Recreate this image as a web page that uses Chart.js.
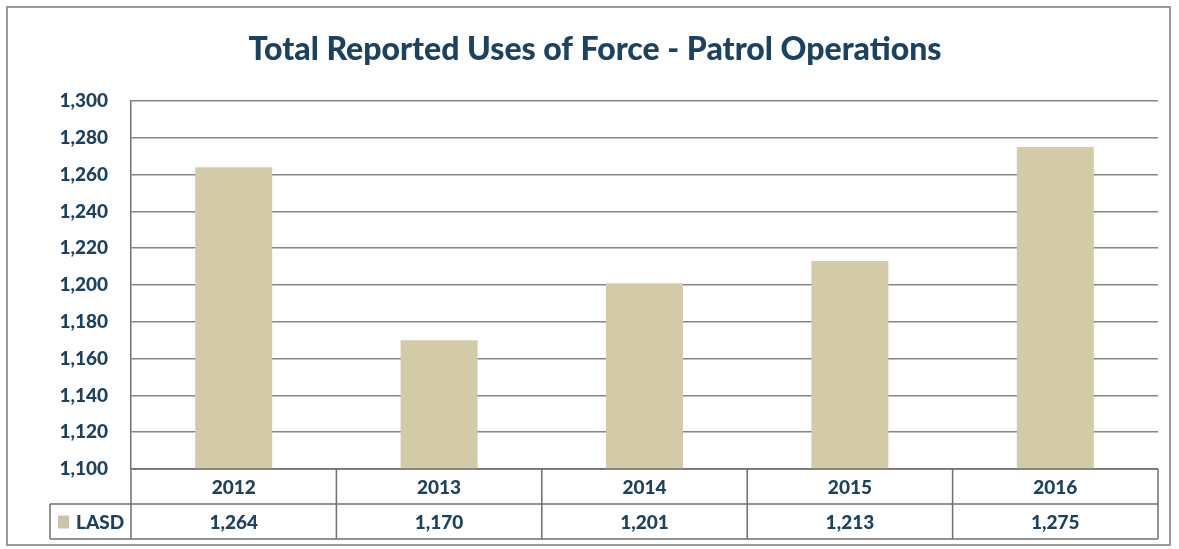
<!DOCTYPE html>
<html>
<head>
<meta charset="utf-8">
<script src="https://cdn.jsdelivr.net/npm/chart.js@4/dist/chart.umd.min.js"></script>
<style>
  html, body { margin: 0; padding: 0; background: #fff; }
  #wrap { width: 1179px; height: 549px; position: relative; }
</style>
</head>
<body>
<div id="wrap"><canvas id="forceChart" width="1179" height="549"></canvas></div>
<script>
const years = ["2012", "2013", "2014", "2015", "2016"];
const lasdValues = [1264, 1170, 1201, 1213, 1275];
const seriesName = "LASD";
const chartTitle = "Total Reported Uses of Force - Patrol Operations";

const navy = "#1b4260";
const barColor = "#d3caa8";
const lineColor = "#858585";
const fontFamily = "Lato, 'Open Sans', sans-serif";

function fmt(v) {
  return v.toLocaleString("en-US");
}

// frame + title + data table under the x axis
const tablePlugin = {
  id: "dataTable",
  beforeDraw(chart) {
    const ctx = chart.ctx;
    ctx.save();
    ctx.fillStyle = "#fff";
    ctx.fillRect(0, 0, chart.width, chart.height);
    ctx.strokeStyle = "#9a9a9a";
    ctx.lineWidth = 2;
    ctx.strokeRect(7, 7, 1163, 538);
    ctx.restore();
  },
  afterDraw(chart) {
    const ctx = chart.ctx;
    const area = chart.chartArea;
    const x = chart.scales.x;
    const rowH = 35;
    const top = area.bottom;
    const legendLeft = 50;

    ctx.save();
    // title
    ctx.fillStyle = navy;
    ctx.font = "900 32px " + fontFamily;
    ctx.textAlign = "center";
    ctx.textBaseline = "alphabetic";
    ctx.fillText(chartTitle, 595, 60);

    // table lines
    ctx.strokeStyle = "#707070";
    ctx.lineWidth = 1.5;
    ctx.beginPath();
    ctx.moveTo(area.left, top);
    ctx.lineTo(area.right, top);
    ctx.moveTo(legendLeft, top + rowH);
    ctx.lineTo(area.right, top + rowH);
    ctx.moveTo(legendLeft, top + rowH * 2);
    ctx.lineTo(area.right, top + rowH * 2);
    ctx.moveTo(legendLeft, top + rowH);
    ctx.lineTo(legendLeft, top + rowH * 2);
    const step = (area.right - area.left) / years.length;
    for (let i = 0; i <= years.length; i++) {
      const lx = area.left + step * i;
      ctx.moveTo(lx, top);
      ctx.lineTo(lx, top + rowH * 2);
    }
    ctx.stroke();

    // table text
    ctx.fillStyle = navy;
    ctx.textBaseline = "middle";
    ctx.font = "900 19px " + fontFamily;
    years.forEach((yr, i) => {
      const cx = x.getPixelForValue(i);
      ctx.fillText(yr, cx, top + rowH / 2 + 1);
      ctx.fillText(fmt(lasdValues[i]), cx, top + rowH * 1.5 + 1);
    });

    // legend cell
    ctx.fillStyle = "#c9c4ad";
    ctx.fillRect(58, top + rowH * 1.5 - 6, 11, 13);
    ctx.fillStyle = navy;
    ctx.textAlign = "left";
    ctx.fillText(seriesName, 76, top + rowH * 1.5 + 1);
    ctx.restore();
  }
};

new Chart(document.getElementById("forceChart"), {
  type: "bar",
  data: {
    labels: years,
    datasets: [
      {
        label: seriesName,
        data: lasdValues,
        backgroundColor: barColor,
        borderWidth: 0,
        categoryPercentage: 1,
        barPercentage: 0.375,
      },
    ],
  },
  options: {
    responsive: false,
    animation: false,
    devicePixelRatio: 1,
    layout: { padding: { left: 0, right: 21, top: 101, bottom: 72 } },
    plugins: {
      legend: { display: false },
      title: { display: false },
      tooltip: { enabled: false },
    },
    scales: {
      x: {
        ticks: { display: false },
        grid: { display: false },
        border: { display: false },
      },
      y: {
        min: 1100,
        max: 1300,
        ticks: {
          stepSize: 20,
          padding: 23,
          color: navy,
          font: { family: fontFamily, size: 19, weight: "900" },
          callback: (v) => fmt(v),
        },
        grid: { color: lineColor, lineWidth: 1.5, drawTicks: false },
        border: { display: true, color: "#707070", width: 1.5 },
        afterFit(scale) {
          scale.width = 131;
        },
      },
    },
  },
  plugins: [tablePlugin],
});
</script>
</body>
</html>
